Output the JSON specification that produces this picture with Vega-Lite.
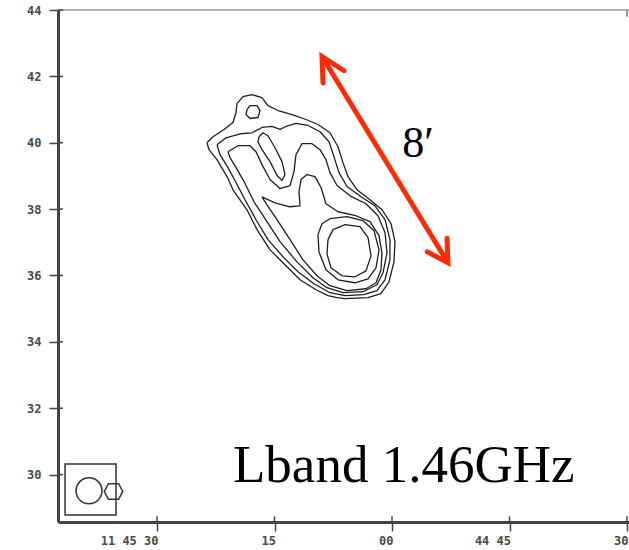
{
  "$schema": "https://vega.github.io/schema/vega-lite/v6.json",
  "width": 571,
  "height": 512,
  "autosize": {"type": "none"},
  "padding": {"left": 58, "top": 10, "right": 0, "bottom": 28},
  "background": "white",
  "config": {"view": {"stroke": null}},
  "datasets": {
    "contours": [
      {"c":1,"i":0,"ra":83.62,"dec":40.00},{"c":1,"i":1,"ra":82.85,"dec":40.18},{"c":1,"i":2,"ra":81.45,"dec":40.40},{"c":1,"i":3,"ra":80.30,"dec":40.61},{"c":1,"i":4,"ra":79.91,"dec":40.91},{"c":1,"i":5,"ra":79.79,"dec":41.18},{"c":1,"i":6,"ra":79.02,"dec":41.39},{"c":1,"i":7,"ra":77.87,"dec":41.45},{"c":1,"i":8,"ra":76.60,"dec":41.36},{"c":1,"i":9,"ra":75.83,"dec":41.12},{"c":1,"i":10,"ra":74.55,"dec":40.97},{"c":1,"i":11,"ra":72.77,"dec":40.85},{"c":1,"i":12,"ra":70.98,"dec":40.70},{"c":1,"i":13,"ra":69.45,"dec":40.55},{"c":1,"i":14,"ra":67.92,"dec":40.30},{"c":1,"i":15,"ra":66.89,"dec":39.88},{"c":1,"i":16,"ra":66.26,"dec":39.40},{"c":1,"i":17,"ra":65.62,"dec":38.98},{"c":1,"i":18,"ra":64.47,"dec":38.58},{"c":1,"i":19,"ra":62.81,"dec":38.28},{"c":1,"i":20,"ra":61.28,"dec":37.98},{"c":1,"i":21,"ra":60.13,"dec":37.56},{"c":1,"i":22,"ra":59.62,"dec":37.02},{"c":1,"i":23,"ra":59.75,"dec":36.41},{"c":1,"i":24,"ra":60.38,"dec":35.81},{"c":1,"i":25,"ra":61.41,"dec":35.45},{"c":1,"i":26,"ra":63.06,"dec":35.33},{"c":1,"i":27,"ra":66.00,"dec":35.30},{"c":1,"i":28,"ra":67.02,"dec":35.33},{"c":1,"i":29,"ra":68.17,"dec":35.39},{"c":1,"i":30,"ra":69.70,"dec":35.57},{"c":1,"i":31,"ra":71.75,"dec":35.87},{"c":1,"i":32,"ra":73.41,"dec":36.26},{"c":1,"i":33,"ra":75.57,"dec":36.77},{"c":1,"i":34,"ra":77.23,"dec":37.38},{"c":1,"i":35,"ra":78.51,"dec":37.98},{"c":1,"i":36,"ra":80.30,"dec":38.58},{"c":1,"i":37,"ra":81.06,"dec":38.98},{"c":1,"i":38,"ra":82.34,"dec":39.49},{"c":1,"i":39,"ra":83.36,"dec":39.79},{"c":1,"i":40,"ra":83.62,"dec":40.00},

      {"c":2,"i":0,"ra":78.51,"dec":41.00},{"c":2,"i":1,"ra":78.13,"dec":41.12},{"c":2,"i":2,"ra":77.23,"dec":41.12},{"c":2,"i":3,"ra":76.85,"dec":40.97},{"c":2,"i":4,"ra":77.11,"dec":40.76},{"c":2,"i":5,"ra":78.13,"dec":40.73},{"c":2,"i":6,"ra":78.64,"dec":40.85},{"c":2,"i":7,"ra":78.51,"dec":41.00},

      {"c":3,"i":0,"ra":82.34,"dec":39.94},{"c":3,"i":1,"ra":81.19,"dec":40.15},{"c":3,"i":2,"ra":79.40,"dec":40.27},{"c":3,"i":3,"ra":77.87,"dec":40.30},{"c":3,"i":4,"ra":76.60,"dec":40.46},{"c":3,"i":5,"ra":75.32,"dec":40.49},{"c":3,"i":6,"ra":74.30,"dec":40.40},{"c":3,"i":7,"ra":73.53,"dec":40.49},{"c":3,"i":8,"ra":72.26,"dec":40.58},{"c":3,"i":9,"ra":70.72,"dec":40.52},{"c":3,"i":10,"ra":69.19,"dec":40.33},{"c":3,"i":11,"ra":68.04,"dec":40.03},{"c":3,"i":12,"ra":67.41,"dec":39.58},{"c":3,"i":13,"ra":66.77,"dec":39.10},{"c":3,"i":14,"ra":65.75,"dec":38.68},{"c":3,"i":15,"ra":63.96,"dec":38.37},{"c":3,"i":16,"ra":62.17,"dec":38.10},{"c":3,"i":17,"ra":60.89,"dec":37.68},{"c":3,"i":18,"ra":60.26,"dec":37.08},{"c":3,"i":19,"ra":60.26,"dec":36.47},{"c":3,"i":20,"ra":60.89,"dec":35.87},{"c":3,"i":21,"ra":61.92,"dec":35.54},{"c":3,"i":22,"ra":63.58,"dec":35.42},{"c":3,"i":23,"ra":66.00,"dec":35.39},{"c":3,"i":24,"ra":67.92,"dec":35.48},{"c":3,"i":25,"ra":69.96,"dec":35.75},{"c":3,"i":26,"ra":72.00,"dec":36.11},{"c":3,"i":27,"ra":73.79,"dec":36.53},{"c":3,"i":28,"ra":75.83,"dec":37.08},{"c":3,"i":29,"ra":77.36,"dec":37.68},{"c":3,"i":30,"ra":78.77,"dec":38.28},{"c":3,"i":31,"ra":79.91,"dec":38.80},{"c":3,"i":32,"ra":80.94,"dec":39.25},{"c":3,"i":33,"ra":81.96,"dec":39.64},{"c":3,"i":34,"ra":82.34,"dec":39.94},

      {"c":4,"i":0,"ra":76.98,"dec":40.18},{"c":4,"i":1,"ra":76.47,"dec":40.30},{"c":4,"i":2,"ra":75.83,"dec":40.21},{"c":4,"i":3,"ra":74.94,"dec":39.85},{"c":4,"i":4,"ra":74.04,"dec":39.43},{"c":4,"i":5,"ra":73.66,"dec":39.04},{"c":4,"i":6,"ra":74.04,"dec":38.86},{"c":4,"i":7,"ra":74.68,"dec":39.01},{"c":4,"i":8,"ra":75.57,"dec":39.43},{"c":4,"i":9,"ra":76.60,"dec":39.79},{"c":4,"i":10,"ra":77.11,"dec":40.03},{"c":4,"i":11,"ra":76.98,"dec":40.18},

      {"c":5,"i":0,"ra":80.94,"dec":39.73},{"c":5,"i":1,"ra":79.66,"dec":39.91},{"c":5,"i":2,"ra":78.13,"dec":39.91},{"c":5,"i":3,"ra":77.36,"dec":39.73},{"c":5,"i":4,"ra":76.60,"dec":39.34},{"c":5,"i":5,"ra":75.57,"dec":38.89},{"c":5,"i":6,"ra":74.30,"dec":38.62},{"c":5,"i":7,"ra":73.02,"dec":38.71},{"c":5,"i":8,"ra":72.51,"dec":39.13},{"c":5,"i":9,"ra":72.26,"dec":39.64},{"c":5,"i":10,"ra":71.49,"dec":39.97},{"c":5,"i":11,"ra":70.21,"dec":39.97},{"c":5,"i":12,"ra":69.19,"dec":39.79},{"c":5,"i":13,"ra":68.43,"dec":39.49},{"c":5,"i":14,"ra":67.92,"dec":39.10},{"c":5,"i":15,"ra":67.02,"dec":38.71},{"c":5,"i":16,"ra":65.36,"dec":38.40},{"c":5,"i":17,"ra":63.32,"dec":38.16},{"c":5,"i":18,"ra":61.79,"dec":37.80},{"c":5,"i":19,"ra":60.89,"dec":37.29},{"c":5,"i":20,"ra":60.64,"dec":36.68},{"c":5,"i":21,"ra":61.15,"dec":36.08},{"c":5,"i":22,"ra":61.92,"dec":35.72},{"c":5,"i":23,"ra":63.70,"dec":35.51},{"c":5,"i":24,"ra":66.26,"dec":35.48},{"c":5,"i":25,"ra":68.30,"dec":35.63},{"c":5,"i":26,"ra":70.09,"dec":35.93},{"c":5,"i":27,"ra":72.13,"dec":36.41},{"c":5,"i":28,"ra":74.30,"dec":37.02},{"c":5,"i":29,"ra":75.96,"dec":37.62},{"c":5,"i":30,"ra":77.62,"dec":38.22},{"c":5,"i":31,"ra":78.89,"dec":38.83},{"c":5,"i":32,"ra":79.91,"dec":39.25},{"c":5,"i":33,"ra":80.68,"dec":39.55},{"c":5,"i":34,"ra":80.94,"dec":39.73},

      {"c":6,"i":0,"ra":76.60,"dec":38.37},{"c":6,"i":1,"ra":74.94,"dec":38.19},{"c":6,"i":2,"ra":73.02,"dec":38.07},{"c":6,"i":3,"ra":71.75,"dec":38.10},{"c":6,"i":4,"ra":71.87,"dec":38.52},{"c":6,"i":5,"ra":71.62,"dec":38.89},{"c":6,"i":6,"ra":70.85,"dec":39.04},{"c":6,"i":7,"ra":69.83,"dec":38.98},{"c":6,"i":8,"ra":69.06,"dec":38.65},{"c":6,"i":9,"ra":68.43,"dec":38.16},{"c":6,"i":10,"ra":66.89,"dec":37.92},{"c":6,"i":11,"ra":64.60,"dec":37.80},{"c":6,"i":12,"ra":62.81,"dec":37.62},{"c":6,"i":13,"ra":61.66,"dec":37.20},{"c":6,"i":14,"ra":61.28,"dec":36.68},{"c":6,"i":15,"ra":61.41,"dec":36.17},{"c":6,"i":16,"ra":62.04,"dec":35.78},{"c":6,"i":17,"ra":63.32,"dec":35.60},{"c":6,"i":18,"ra":65.75,"dec":35.54},{"c":6,"i":19,"ra":67.92,"dec":35.69},{"c":6,"i":20,"ra":69.58,"dec":35.99},{"c":6,"i":21,"ra":71.36,"dec":36.47},{"c":6,"i":22,"ra":73.02,"dec":37.08},{"c":6,"i":23,"ra":74.68,"dec":37.68},{"c":6,"i":24,"ra":75.96,"dec":38.13},{"c":6,"i":25,"ra":76.60,"dec":38.37},

      {"c":7,"i":0,"ra":69.45,"dec":37.23},{"c":7,"i":1,"ra":68.94,"dec":37.56},{"c":7,"i":2,"ra":67.92,"dec":37.71},{"c":7,"i":3,"ra":65.75,"dec":37.77},{"c":7,"i":4,"ra":63.70,"dec":37.65},{"c":7,"i":5,"ra":62.30,"dec":37.35},{"c":7,"i":6,"ra":61.66,"dec":36.77},{"c":7,"i":7,"ra":62.04,"dec":36.23},{"c":7,"i":8,"ra":63.06,"dec":35.90},{"c":7,"i":9,"ra":64.72,"dec":35.78},{"c":7,"i":10,"ra":66.89,"dec":35.87},{"c":7,"i":11,"ra":68.43,"dec":36.17},{"c":7,"i":12,"ra":69.32,"dec":36.71},{"c":7,"i":13,"ra":69.45,"dec":37.23},

      {"c":8,"i":0,"ra":68.17,"dec":37.08},{"c":8,"i":1,"ra":67.53,"dec":37.38},{"c":8,"i":2,"ra":66.00,"dec":37.53},{"c":8,"i":3,"ra":64.09,"dec":37.47},{"c":8,"i":4,"ra":63.06,"dec":37.14},{"c":8,"i":5,"ra":62.68,"dec":36.59},{"c":8,"i":6,"ra":63.32,"dec":36.14},{"c":8,"i":7,"ra":64.72,"dec":35.96},{"c":8,"i":8,"ra":66.38,"dec":35.99},{"c":8,"i":9,"ra":67.79,"dec":36.23},{"c":8,"i":10,"ra":68.30,"dec":36.65},{"c":8,"i":11,"ra":68.17,"dec":37.08}
    ],
    "yticks": [{"v":30},{"v":32},{"v":34},{"v":36},{"v":38},{"v":40},{"v":42},{"v":44}],
    "xticks": [{"v":90},{"v":75},{"v":60},{"v":45},{"v":30}],
    "topticks": [{"v":30}],
    "beambox": [{"ra":101.74,"ra2":95.23,"dec":30.32,"dec2":28.78}],
    "beam": [{"ra":98.68,"dec":29.51}],
    "beamcell": [{"ra":95.55,"dec":29.49}],
    "shaft": [{"ra":68.94,"dec":42.60,"ra2":52.85,"dec2":36.38}],
    "heads": [
      {"h":"top","i":0,"ra":68.81,"dec":41.80},{"h":"top","i":1,"ra":68.94,"dec":42.60},{"h":"top","i":2,"ra":66.13,"dec":42.17},
      {"h":"bottom","i":0,"ra":52.98,"dec":37.12},{"h":"bottom","i":1,"ra":52.85,"dec":36.38},{"h":"bottom","i":2,"ra":55.50,"dec":36.71}
    ],
    "sizelabel": [{"ra":56.68,"dec":39.58,"t":"8′"}],
    "bandlabel": [{"ra":80.30,"dec":29.78,"t":"Lband 1.46GHz"}]
  },
  "layer": [
    {
      "data": {"name": "contours"},
      "mark": {"type": "line", "color": "#1e1e1e", "strokeWidth": 1.3, "strokeJoin": "round"},
      "encoding": {
        "x": {
          "field": "ra", "type": "quantitative",
          "scale": {"domain": [102.64, 29.745], "nice": false, "zero": false},
          "axis": {
            "title": null, "grid": false,
            "values": [90, 75, 60, 45, 30],
            "labelExpr": "datum.value == 90 ? '11 45 30' : datum.value == 75 ? '15' : datum.value == 60 ? '00' : datum.value == 45 ? '44 45' : '30'",
            "labelAlign": "right", "labelOffset": 1, "labelPadding": 4,
            "labelFont": "DejaVu Sans Mono", "labelFontSize": 12, "labelFontWeight": "bold", "labelColor": "#4a4a4a",
            "tickSize": 9, "tickWidth": 1.5, "tickColor": "#444444",
            "domainColor": "#444444", "domainWidth": 3
          }
        },
        "y": {
          "field": "dec", "type": "quantitative",
          "scale": {"domain": [28.57, 44.0], "nice": false, "zero": false},
          "axis": {
            "title": null, "grid": false,
            "values": [30, 32, 34, 36, 38, 40, 42, 44],
            "labelFont": "DejaVu Sans Mono", "labelFontSize": 12, "labelFontWeight": "bold", "labelColor": "#4a4a4a",
            "labelPadding": 8,
            "tickSize": 9, "tickWidth": 1.5, "tickColor": "#444444",
            "domainColor": "#444444", "domainWidth": 3
          }
        },
        "detail": {"field": "c", "type": "nominal"},
        "order": {"field": "i", "type": "quantitative"}
      }
    },
    {
      "data": {"values": [{}]},
      "mark": {"type": "rule", "color": "#999999", "strokeWidth": 1.5},
      "encoding": {"y": {"datum": 44}}
    },
    {
      "data": {"name": "topticks"},
      "mark": {"type": "rule", "color": "#999999", "strokeWidth": 2},
      "encoding": {
        "x": {"field": "v", "type": "quantitative"},
        "y": {"datum": 44},
        "y2": {"datum": 43.8}
      }
    },
    {
      "data": {"name": "yticks"},
      "mark": {"type": "rule", "color": "#444444", "strokeWidth": 1.5},
      "encoding": {
        "y": {"field": "v", "type": "quantitative"},
        "x": {"datum": 102.64},
        "x2": {"datum": 102.0}
      }
    },
    {
      "data": {"name": "xticks"},
      "mark": {"type": "rule", "color": "#444444", "strokeWidth": 1.5},
      "encoding": {
        "x": {"field": "v", "type": "quantitative"},
        "y": {"datum": 28.57},
        "y2": {"datum": 28.74}
      }
    },
    {
      "data": {"name": "beambox"},
      "mark": {"type": "rect", "fill": null, "fillOpacity": 0, "stroke": "#333333", "strokeWidth": 1.5},
      "encoding": {
        "x": {"field": "ra", "type": "quantitative"},
        "x2": {"field": "ra2"},
        "y": {"field": "dec", "type": "quantitative"},
        "y2": {"field": "dec2"}
      }
    },
    {
      "data": {"name": "beam"},
      "mark": {"type": "point", "shape": "circle", "filled": false, "size": 676, "stroke": "#333333", "strokeWidth": 1.5, "opacity": 1},
      "encoding": {
        "x": {"field": "ra", "type": "quantitative"},
        "y": {"field": "dec", "type": "quantitative"}
      }
    },
    {
      "data": {"name": "beamcell"},
      "mark": {"type": "point", "shape": "M-1,0L-0.55,-0.85L0.55,-0.85L1,0L0.55,0.85L-0.55,0.85Z", "filled": false, "size": 340, "stroke": "#333333", "strokeWidth": 1.5, "opacity": 1},
      "encoding": {
        "x": {"field": "ra", "type": "quantitative"},
        "y": {"field": "dec", "type": "quantitative"}
      }
    },
    {
      "data": {"name": "shaft"},
      "mark": {"type": "rule", "color": "#fe2c05", "strokeWidth": 5, "strokeCap": "butt"},
      "encoding": {
        "x": {"field": "ra", "type": "quantitative"},
        "y": {"field": "dec", "type": "quantitative"},
        "x2": {"field": "ra2"},
        "y2": {"field": "dec2"}
      }
    },
    {
      "data": {"name": "heads"},
      "mark": {"type": "line", "color": "#fe2c05", "strokeWidth": 5, "strokeJoin": "miter", "strokeCap": "round"},
      "encoding": {
        "x": {"field": "ra", "type": "quantitative"},
        "y": {"field": "dec", "type": "quantitative"},
        "detail": {"field": "h", "type": "nominal"},
        "order": {"field": "i", "type": "quantitative"}
      }
    },
    {
      "data": {"name": "sizelabel"},
      "mark": {"type": "text", "font": "Liberation Serif", "fontSize": 44, "align": "center", "baseline": "alphabetic", "color": "#000000"},
      "encoding": {
        "x": {"field": "ra", "type": "quantitative"},
        "y": {"field": "dec", "type": "quantitative"},
        "text": {"field": "t"}
      }
    },
    {
      "data": {"name": "bandlabel"},
      "mark": {"type": "text", "font": "Liberation Serif", "fontSize": 53, "align": "left", "baseline": "alphabetic", "color": "#000000"},
      "encoding": {
        "x": {"field": "ra", "type": "quantitative"},
        "y": {"field": "dec", "type": "quantitative"},
        "text": {"field": "t"}
      }
    }
  ]
}
